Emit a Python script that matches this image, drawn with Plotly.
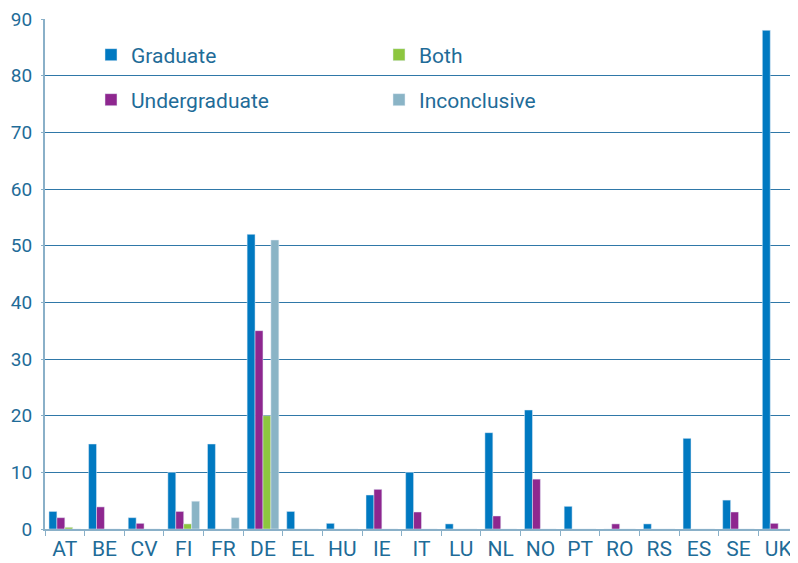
import plotly.graph_objects as go

countries = ["AT", "BE", "CV", "FI", "FR", "DE", "EL", "HU", "IE", "IT",
             "LU", "NL", "NO", "PT", "RO", "RS", "ES", "SE", "UK"]
graduate = [3.1, 15, 2, 10, 15, 52, 3.1, 1, 6, 10, 0.9, 17, 21, 4, 0, 0.9, 16, 5.1, 88]
undergraduate = [2, 3.9, 1, 3.1, 0, 35, 0, 0, 7, 3, 0, 2.3, 8.8, 0, 0.9, 0, 0, 3, 1]
both = [0.3, 0, 0, 0.9, 0, 20, 0, 0, 0, 0, 0, 0, 0, 0, 0, 0, 0, 0, 0]
inconclusive = [0, 0, 0, 4.9, 2, 51, 0, 0, 0, 0, 0, 0, 0, 0, 0, 0, 0, 0, 0]

TXT = "#1f6c98"
FONT = "Roboto"

# the page adds an 8px body margin, so the figure is drawn 8px smaller
W, H = 790, 555
L, T, B = 37, 11, 34
plot_h = H - T - B
plot_w = W - L

fig = go.Figure()
fig.add_bar(x=countries, y=graduate, name="Graduate", marker_color="#0079c1", legend="legend")
fig.add_bar(x=countries, y=undergraduate, name="Undergraduate", marker_color="#8e278f", legend="legend2")
fig.add_bar(x=countries, y=both, name="Both", marker_color="#8dc63f", legend="legend")
fig.add_bar(x=countries, y=inconclusive, name="Inconclusive", marker_color="#8ab4c6", legend="legend2")

def legend_at(y_px):
    return dict(orientation="h", entrywidth=243, entrywidthmode="pixels",
                bgcolor="rgba(0,0,0,0)", font=dict(family=FONT, size=21, color=TXT),
                x=(44 + 2) / plot_w, xanchor="left", y=1 - (y_px - T) / plot_h, yanchor="middle",
                itemclick=False, traceorder="normal")

fig.update_layout(
    width=W, height=H,
    margin=dict(l=L, r=0, t=T, b=B, autoexpand=False),
    paper_bgcolor="white", plot_bgcolor="white",
    barmode="group", bargap=0.2, bargroupgap=0,
    font=dict(family=FONT, color=TXT),
    legend=legend_at(47),
    legend2=legend_at(92),
)

fig.update_xaxes(
    type="category", tickson="boundaries", ticks="outside", ticklen=5,
    tickcolor="#8ab0c8", showline=True, linecolor="#8ab0c8", linewidth=2,
    tickfont=dict(family=FONT, size=21, color=TXT), showgrid=False,
)
fig.update_yaxes(
    range=[0, 90], tickvals=[0, 10, 20, 30, 40, 50, 60, 70, 80, 90],
    showgrid=True, gridcolor="#2f78a8", gridwidth=1,
    showline=True, linecolor="#8ab0c8", linewidth=2, ticks="outside", ticklen=2,
    tickcolor="#8ab0c8", zeroline=False, ticklabelstandoff=5,
    ticklabeloverflow="allow",
    tickfont=dict(family=FONT, size=19, color=TXT),
)

fig.write_html("out.html")
